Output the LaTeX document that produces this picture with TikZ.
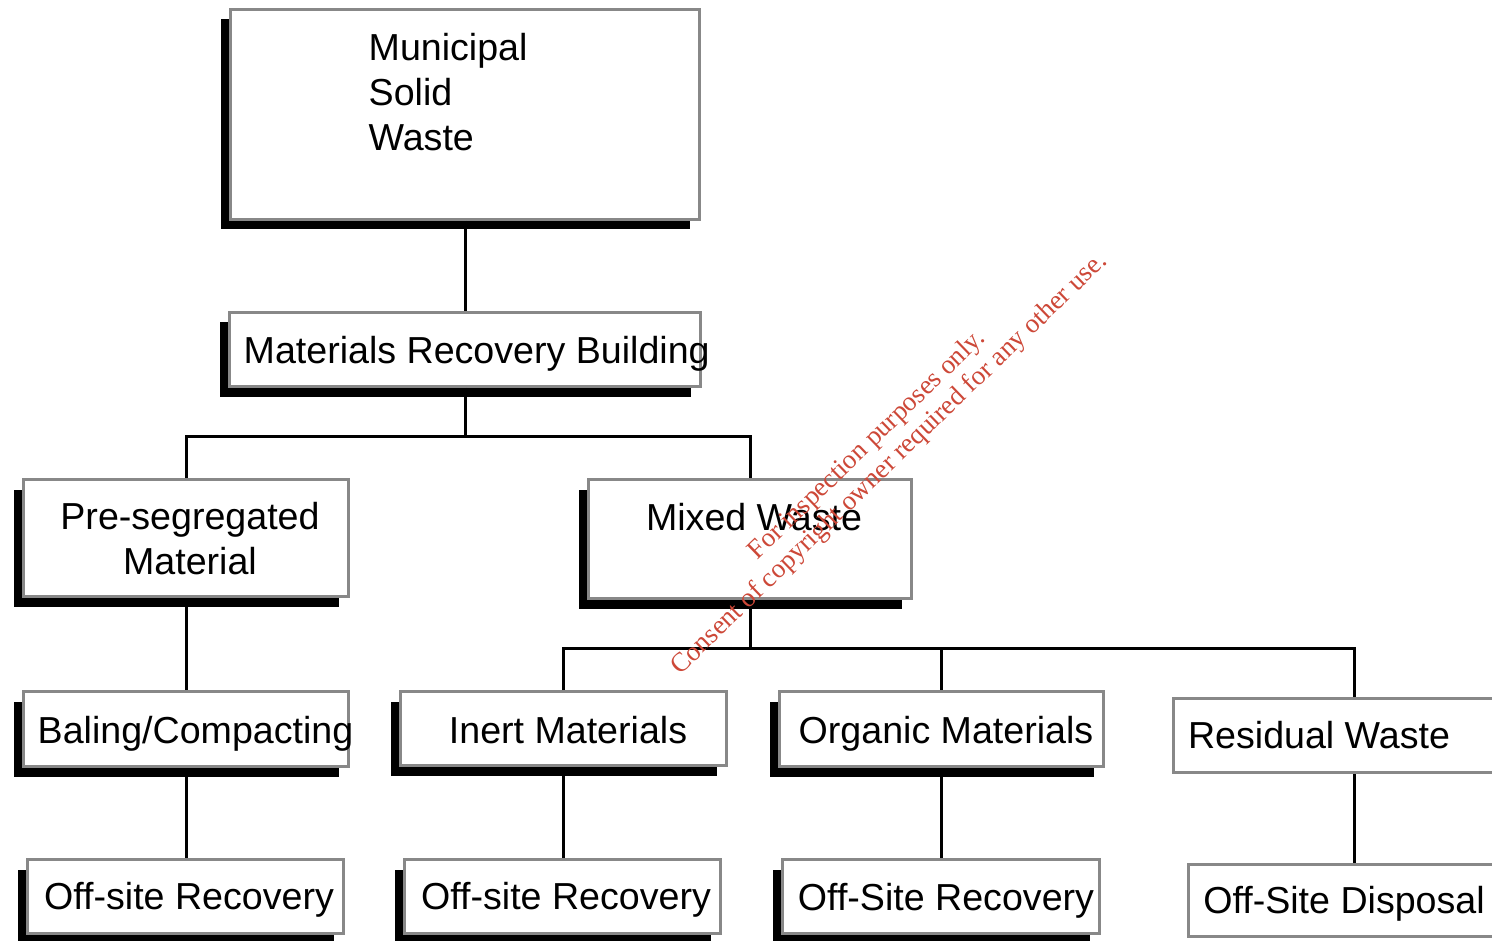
\documentclass[tikz,border=0pt]{standalone}
\usepackage{fontspec}
\setmainfont{Liberation Sans}
\newfontfamily\filigranefont{Liberation Serif}
\usetikzlibrary{shadows}
\definecolor{rand}{RGB}{136,136,136}
\definecolor{rouge}{RGB}{205,72,56}
\begin{document}
\begin{tikzpicture}[x=1pt, y=-1pt]
	\tikzset{boite/.style={rectangle, draw=rand, line width=3pt, fill=white, inner sep=0pt},
		ombre/.style={boite, drop shadow={shadow xshift=-10pt, shadow yshift=-10pt, fill=black, opacity=1}},
		texte/.style={inner sep=0pt, font=\fontsize{37.6}{45}\selectfont},
		trait/.style={line width=3pt, black},
		filigrane/.style={inner sep=0pt, rotate=44, text=rouge, font=\filigranefont\fontsize{27}{29}\selectfont}};
	\path[use as bounding box, fill=white] (0,0) rectangle (1492,941);

	% boites
	\node[ombre, minimum width=469pt, minimum height=210pt] (msw) at (465,114.5) {};
	\node[ombre, minimum width=471pt, minimum height=74pt] (mrb) at (465,349.5) {};
	\node[ombre, minimum width=325pt, minimum height=117pt] (pre) at (186,538) {};
	\node[ombre, minimum width=323pt, minimum height=119pt] (mix) at (750,539) {};
	\node[ombre, minimum width=325pt, minimum height=75pt] (bal) at (186,729) {};
	\node[ombre, minimum width=326pt, minimum height=74pt] (ine) at (563.5,728.5) {};
	\node[ombre, minimum width=324pt, minimum height=75pt] (org) at (941.5,729) {};
	\node[boite, minimum width=361pt, minimum height=74pt] (res) at (1354,735.5) {};
	\node[ombre, minimum width=316pt, minimum height=74pt] (osr1) at (185.5,896.5) {};
	\node[ombre, minimum width=316pt, minimum height=74pt] (osr2) at (562.5,896.5) {};
	\node[ombre, minimum width=317pt, minimum height=74pt] (osr3) at (941,896.5) {};
	\node[boite, minimum width=331pt, minimum height=72pt] (osd) at (1354,900.5) {};

	% traits
	\coordinate (j1) at (465,436);
	\coordinate (j2) at (750,648);
	\draw[trait] (msw.south) -- (mrb.north);
	\draw[trait] (mrb.south) -- (j1);
	\draw[trait] (pre.north) |- (j1) -| (mix.north);
	\draw[trait] (mix.south) -- (j2);
	\draw[trait] (ine.north) |- (j2) -| (org.north);
	\draw[trait] (j2) -| (res.north);
	\draw[trait] (pre.south) -- (bal.north);
	\draw[trait] (bal.south) -- (bal.south |- osr1.north);
	\draw[trait] (ine.south) -- (ine.south |- osr2.north);
	\draw[trait] (org.south) -- (org.south |- osr3.north);
	\draw[trait] (res.south) -- (osd.north);

	% textes
	\node[texte, anchor=west, align=left] (msw-t) at (368.5,92) {Municipal\\Solid\\Waste};
	\node[texte, anchor=base west] (mrb-t) at (243.5,363) {Materials Recovery Building};
	\node[texte, align=center] (pre-t) at (190,539) {Pre-segregated\\Material};
	\node[texte, anchor=base] (mix-t) at (754,530) {Mixed Waste};
	\node[texte, anchor=base west] (bal-t) at (37.5,743) {Baling/Compacting};
	\node[texte, anchor=base] (ine-t) at (568,743) {Inert Materials};
	\node[texte, anchor=base] (org-t) at (946,743) {Organic Materials};
	\node[texte, anchor=base] (res-t) at (1319,748) {Residual Waste};
	\node[texte, anchor=base] (osr1-t) at (189,909) {Off-site Recovery};
	\node[texte, anchor=base] (osr2-t) at (566,909) {Off-site Recovery};
	\node[texte, anchor=base] (osr3-t) at (946,910) {Off-Site Recovery};
	\node[texte, anchor=base] (osd-t) at (1344,913) {Off-Site Disposal};

	% filigrane
	\node[filigrane, anchor=base] (fil1) at (872,450) {For inspection purposes only.};
	\node[filigrane, anchor=base] (fil2) at (894,469) {Consent of copyright owner required for any other use.};
\end{tikzpicture}
\end{document}
